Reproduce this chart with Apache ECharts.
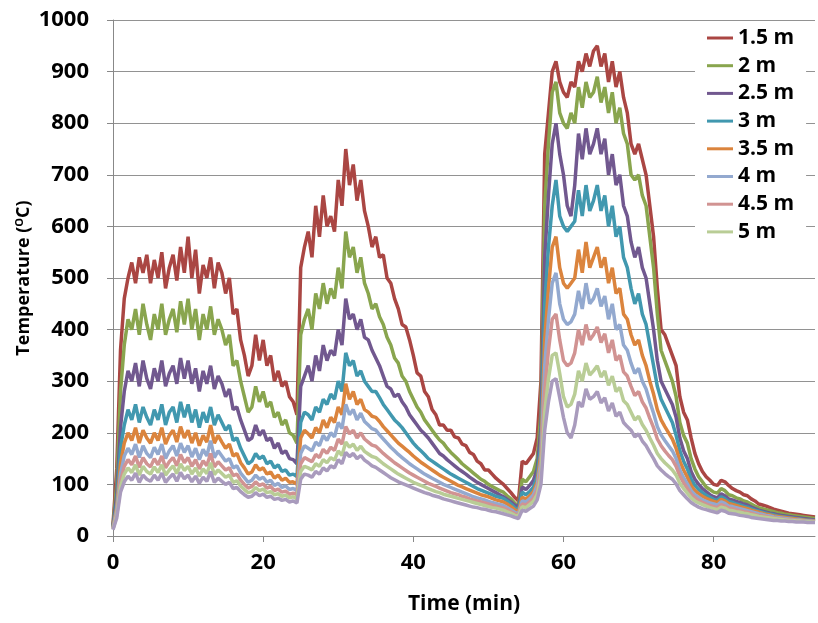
<!DOCTYPE html>
<html>
<head>
<meta charset="utf-8">
<script src="https://cdn.jsdelivr.net/npm/echarts@6/dist/echarts.min.js"></script>
<style>html,body{margin:0;padding:0;background:#fff;}#c{width:818px;height:623px;}</style>
</head>
<body>
<div id="c"></div>
<script>
// sampling step in minutes
const STEP = 0.5;
const seriesNames = ['1.5 m','2 m','2.5 m','3 m','3.5 m','4 m','4.5 m','5 m','5.5 m'];
const legendNames = ['1.5 m','2 m','2.5 m','3 m','3.5 m','4 m','4.5 m','5 m'];
const xTicks = [0,20,40,60,80];

const s15 = [22,130,360,460,500,530,490,540,510,545, 490,535,500,550,480,520,545,495,560,510,
 580,500,555,470,525,500,540,480,530,510, 470,500,430,440,380,350,310,330,390,340,
 380,330,350,300,320,290,300,270,260,235, 520,560,590,540,640,580,660,600,620,590,
 690,640,750,680,720,650,690,630,600,560, 580,540,545,500,490,460,440,410,405,380,
 350,316,310,280,270,245,235,215,215,205, 205,192,190,178,175,162,158,145,140,128,
 128,120,112,106,100,92,84,75,68,145, 140,150,160,190,300,740,820,900,920,880,
 860,850,880,870,920,900,935,910,940,950, 910,935,880,920,870,900,850,820,760,740,
 760,730,700,640,580,480,400,390,370,350, 330,270,240,225,190,160,140,125,115,108,
 100,98,108,105,98,92,88,85,80,78, 72,68,62,60,58,55,52,50,48,46, 44,43,42,41,40,39,38,37];
const s20 = [20,100,280,370,420,400,440,390,450,410, 380,430,400,450,390,420,440,395,455,410,
 460,400,440,380,430,400,445,390,420,400, 370,390,330,340,300,270,240,250,290,260,
 280,250,260,230,240,215,225,200,195,180, 390,420,440,400,470,440,490,450,480,460,
 520,480,590,540,560,510,540,490,470,440, 450,425,410,385,370,345,335,310,300,280,
 265,250,240,225,215,205,195,186,180,170, 162,155,148,140,134,128,122,116,110,106,
 100,96,92,88,85,78,72,64,58,110, 105,115,125,150,240,640,760,860,880,820,
 800,790,820,800,870,830,880,850,860,890, 840,870,820,860,800,830,780,760,700,690,
 700,660,640,580,520,430,360,340,320,300, 270,220,195,180,150,130,115,105,95,90,
 85,83,92,88,80,78,74,72,68,66, 62,58,55,53,51,49,47,45,44,42, 41,40,39,38,37,36,35,34];
const s25 = [18,80,210,280,320,300,335,290,340,305, 285,325,300,340,290,315,330,295,345,305,
 340,295,325,280,320,295,330,285,310,295, 270,285,245,250,225,205,185,190,215,195,
 205,185,190,170,180,160,165,150,148,140, 290,310,330,300,350,320,370,340,360,350,
 400,370,460,420,430,400,420,385,380,360, 345,330,310,290,285,270,275,260,250,235,
 225,215,205,198,190,180,170,160,155,148, 142,136,130,125,120,114,109,104,100,96,
 92,88,84,80,76,71,66,60,55,95, 90,98,108,130,210,540,660,760,800,740,
 700,640,620,680,780,730,790,740,760,790, 740,770,700,740,680,700,640,620,570,540,
 560,520,500,450,400,340,300,285,270,255, 230,190,165,150,125,110,100,92,86,80,
 76,74,82,78,72,70,67,65,62,60, 56,53,50,48,46,44,43,41,40,39, 38,37,36,35,34,33,32,31];
const s30 = [17,65,170,215,245,225,255,220,250,230, 215,245,225,255,215,240,250,220,260,230,
 255,220,245,210,240,220,250,215,235,220, 205,215,185,190,170,155,140,145,160,150,
 155,140,145,132,138,125,128,118,120,115, 220,240,235,225,250,240,265,255,275,265,
 300,280,355,330,340,310,320,300,290,280, 280,268,255,245,235,225,218,210,200,190,
 180,172,165,158,150,145,140,135,130,125, 120,116,112,108,104,100,96,92,89,86,
 83,80,77,75,73,68,62,55,50,85, 80,86,95,115,180,450,560,640,690,620,
 600,590,600,610,670,620,680,630,650,680, 630,660,600,640,580,600,540,520,480,450,
 470,430,410,370,330,290,265,250,235,220, 195,165,145,130,110,98,90,84,79,75,
 71,69,76,72,67,65,62,60,58,56, 53,50,48,46,44,42,41,39,38,37, 36,35,34,33,32,31,30,30];
const s35 = [16,55,140,180,200,185,210,180,205,190, 180,200,185,210,178,195,205,182,212,190,
 205,180,200,175,195,182,215,180,195,182, 170,178,155,160,142,132,120,124,138,128,
 132,120,124,112,118,108,112,104,105,100, 190,205,198,190,210,200,225,210,230,220,
 250,235,295,265,280,255,265,245,240,232, 230,222,212,204,196,188,180,174,168,162,
 155,149,143,138,133,128,123,118,114,110, 106,102,98,95,92,89,86,83,80,78,
 76,73,70,68,66,62,57,51,47,75, 72,78,86,105,160,380,480,560,580,520,
 490,480,490,500,555,510,570,520,540,560, 520,540,490,520,470,480,430,420,390,370,
 380,350,330,300,275,245,225,212,200,188, 170,145,128,114,98,88,82,77,73,70,
 67,65,71,68,63,61,59,57,55,53, 50,48,46,44,42,41,39,38,37,36, 35,34,33,32,31,30,30,29];
const s40 = [15,50,120,155,170,158,178,152,175,160, 152,172,158,178,150,165,175,155,180,162,
 175,153,170,148,168,155,185,152,165,155, 145,150,132,136,122,113,104,108,118,110,
 114,104,108,98,102,94,97,90,92,88, 160,175,170,165,182,175,195,185,200,192,
 220,208,255,235,245,225,238,222,215,208, 205,196,188,180,172,165,158,152,146,140,
 135,130,125,120,116,112,108,104,100,97, 94,91,88,85,82,79,76,74,72,70,
 67,65,63,61,59,55,51,46,43,68, 66,72,80,98,145,330,420,490,510,450,
 420,410,415,430,475,440,490,450,460,480, 445,465,420,450,400,410,370,360,335,315,
 325,300,285,260,238,212,196,185,175,165, 150,128,113,101,88,80,75,70,67,64,
 62,60,66,63,58,57,55,53,51,49, 47,45,43,42,40,39,37,36,35,34, 33,32,31,31,30,29,29,28];
const s45 = [14,45,105,135,148,138,155,133,152,140, 134,150,138,155,132,144,152,136,158,142,
 152,135,148,130,146,136,160,134,144,136, 128,132,117,120,108,100,93,96,105,98,
 101,93,96,88,91,85,87,81,83,80, 140,152,148,144,158,152,168,160,172,166,
 188,178,212,198,205,190,200,188,182,176, 174,167,160,154,148,142,137,132,127,122,
 118,114,110,106,102,99,96,93,90,87, 84,82,80,77,75,72,70,68,66,64,
 62,60,58,56,54,51,47,43,40,62, 60,66,73,88,130,280,360,420,430,380,
 340,330,335,355,400,370,410,380,390,405, 375,392,355,380,340,350,318,310,290,272,
 280,260,248,228,210,188,175,165,156,148, 135,116,103,92,81,74,69,65,62,59,
 57,55,61,58,54,53,51,49,47,46, 44,42,40,39,38,36,35,34,33,32, 31,31,30,30,29,28,28,27];
const s50 = [13,40,95,120,132,123,138,118,135,125, 120,134,123,138,118,128,136,121,140,127,
 135,120,132,116,130,121,142,119,128,121, 114,118,104,107,97,90,84,86,94,88,
 91,84,86,80,82,77,79,74,76,72, 125,135,132,128,140,135,148,142,152,147,
 165,156,182,172,178,166,174,164,159,154, 152,146,140,135,130,125,120,116,112,108,
 104,101,98,95,92,89,86,84,81,79, 77,75,73,71,69,67,65,63,61,59,
 57,55,54,52,50,47,44,40,38,57, 55,61,67,80,115,240,305,350,355,315,
 270,250,255,275,320,300,335,312,320,330, 308,320,292,310,280,288,262,255,240,225,
 232,216,205,190,176,160,150,142,135,128, 118,102,92,83,74,68,64,61,58,55,
 53,51,56,54,50,49,47,46,44,43, 41,40,38,37,36,35,34,33,32,31, 30,30,29,29,28,28,27,27];
const s55 = [12,35,85,105,116,108,122,104,118,110, 106,118,108,122,104,113,120,106,123,111,
 118,105,116,102,114,106,125,104,112,106, 100,104,92,94,86,80,75,77,84,78,
 81,75,77,71,73,69,71,66,68,64, 110,120,118,114,125,120,132,126,136,132,
 148,140,162,154,160,150,156,147,142,136, 133,128,123,118,113,109,105,102,99,96,
 93,90,87,84,82,79,77,75,72,70, 68,66,64,62,60,58,56,55,53,52,
 50,48,47,45,43,41,39,36,34,50, 48,53,58,70,100,205,260,300,305,268,
 230,200,190,215,260,250,285,265,270,280, 258,268,242,258,232,240,220,212,205,192,
 198,184,175,162,150,136,128,121,115,110, 101,88,80,72,65,60,56,53,51,49,
 47,45,50,48,44,43,42,40,39,38, 36,35,34,33,32,31,30,30,29,29, 28,28,27,27,27,26,26,26];

const allValues = [s15,s20,s25,s30,s35,s40,s45,s50,s55];
const colors = ['#AA4643','#89A54E','#71588F','#4198AF','#DB843D','#93A9CF','#D19392','#B9CD96','#A99BBD'];

const FONT = 'Open Sans';
const chart = echarts.init(document.getElementById('c'), null, {renderer:'canvas'});
chart.setOption({
  animation: false,
  backgroundColor: '#fff',
  grid: {left:113, top:20, right:3, bottom:87, outerBoundsMode:'none', containLabel:false},
  legend: {
    data: legendNames, orient:'vertical', left:695, top:23.5,
    icon:'rect', itemWidth:26, itemHeight:3, itemGap:6.7,
    padding:[4,12,8,12], backgroundColor:'#fff',
    textStyle:{fontFamily:FONT, fontSize:21, fontWeight:'bold', color:'#000'}
  },
  xAxis: {
    type:'value', min:0, max:93.5, interval:20,
    axisLine:{show:true, lineStyle:{color:'#888', width:1}},
    axisTick:{show:true, inside:false, length:6, lineStyle:{color:'#888'}, customValues:xTicks},
    axisLabel:{fontFamily:FONT, fontSize:22, fontWeight:'bold', color:'#000', margin:16, customValues:xTicks},
    splitLine:{show:false},
    name:'Time (min)', nameLocation:'middle', nameGap:58, nameMoveOverlap:false,
    nameTextStyle:{fontFamily:FONT, fontSize:21, fontWeight:'bold', color:'#000'}
  },
  yAxis: {
    type:'value', min:0, max:1000, interval:100,
    axisLine:{show:true, lineStyle:{color:'#888', width:1}},
    axisTick:{show:true, inside:false, length:6, lineStyle:{color:'#888'}},
    axisLabel:{fontFamily:FONT, fontSize:22, fontWeight:'bold', color:'#000', margin:24,
      formatter: v => String(v)},
    splitLine:{show:true, lineStyle:{color:'#929292', width:1}},
    name:'Temperature ({sup|O}C)', nameLocation:'middle', nameGap:79, nameMoveOverlap:false,
    nameTextStyle:{fontFamily:FONT, fontSize:18, fontWeight:'bold', color:'#000',
      rich:{sup:{fontFamily:FONT, fontSize:11, fontWeight:'bold', color:'#000', padding:[0,0,9,0]}}}
  },
  series: allValues.map((vals, k) => ({
    name: seriesNames[k], type:'line', symbol:'none', showSymbol:false,
    color: colors[k],
    lineStyle:{width:3.5, color:colors[k]},
    data: vals.map((v, i) => [i*STEP, v])
  }))
});
</script>
</body>
</html>
